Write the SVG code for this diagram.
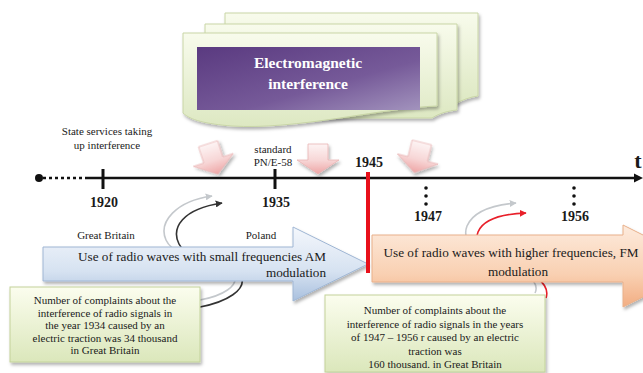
<svg xmlns="http://www.w3.org/2000/svg" width="643" height="373" viewBox="0 0 643 373">
<defs>
<style>
.t{font-family:"Liberation Serif","Times New Roman",serif;fill:#1a1a1a}
.b{font-weight:bold}
.card{fill:url(#cardG);stroke:#c9d6a6;stroke-width:1}
.note{fill:url(#noteG);stroke:#c3d29a;stroke-width:1}
.darr{fill:url(#pinkG);stroke:#e8b4b4;stroke-width:0.8}
</style>
<linearGradient id="cardG" x1="0" y1="0" x2="0" y2="1"><stop offset="0" stop-color="#f8fbec"/><stop offset="1" stop-color="#dde8c2"/></linearGradient>
<linearGradient id="noteG" x1="0" y1="0" x2="0" y2="1"><stop offset="0" stop-color="#fbfdee"/><stop offset="1" stop-color="#dbe7bb"/></linearGradient>
<linearGradient id="purG" x1="0" y1="0" x2="1" y2="1"><stop offset="0" stop-color="#5a3a80"/><stop offset="0.6" stop-color="#765a99"/><stop offset="1" stop-color="#a293bd"/></linearGradient>
<linearGradient id="blueG" x1="0" y1="0" x2="0" y2="1"><stop offset="0" stop-color="#f4f7fc"/><stop offset="0.6" stop-color="#d6e2f1"/><stop offset="1" stop-color="#a9c0de"/></linearGradient>
<linearGradient id="orG" x1="0" y1="0" x2="0" y2="1"><stop offset="0" stop-color="#fdebdd"/><stop offset="0.6" stop-color="#f9d0b2"/><stop offset="1" stop-color="#f2ad82"/></linearGradient>
<linearGradient id="pinkG" x1="0" y1="0" x2="0" y2="1"><stop offset="0" stop-color="#fdf4f4"/><stop offset="0.55" stop-color="#f7d6d6"/><stop offset="1" stop-color="#eea5a5"/></linearGradient>
<filter id="sh" x="-10%" y="-10%" width="130%" height="140%"><feDropShadow dx="1.5" dy="2.5" stdDeviation="1.5" flood-color="#000" flood-opacity="0.3"/></filter>
<marker id="mk" viewBox="0 0 10 10" refX="9" refY="5" markerWidth="7" markerHeight="7" orient="auto" markerUnits="userSpaceOnUse"><path d="M0,0 L10,5 L0,10 Z" fill="#333"/></marker>
<marker id="mg" viewBox="0 0 10 10" refX="9" refY="5" markerWidth="7" markerHeight="7" orient="auto" markerUnits="userSpaceOnUse"><path d="M0,0 L10,5 L0,10 Z" fill="#c4c8cc"/></marker>
<marker id="mr" viewBox="0 0 10 10" refX="9" refY="5" markerWidth="7" markerHeight="7" orient="auto" markerUnits="userSpaceOnUse"><path d="M0,0 L10,5 L0,10 Z" fill="#e8202a"/></marker>
</defs>
<rect width="643" height="373" fill="#fff"/>

<g id="title">
<path class="card" filter="url(#sh)" d="M225,13 H478 V96 C470,97 462,100 455,104 H225 Z"/>
<path class="card" filter="url(#sh)" d="M205,24 H457 V110 C448,111 440,113 432,118 H205 Z"/>
<path class="card" filter="url(#sh)" d="M183,33 H437 V106 C410,107 380,112 340,118 C300,124 262,128 232,126 C206,124 190,120 183,113 Z"/>
<rect x="197" y="47" width="223" height="63" fill="url(#purG)"/>
<text class="t b" x="308" y="68" font-size="15.5" text-anchor="middle" style="fill:#fff">Electromagnetic</text>
<text class="t b" x="308" y="89" font-size="15.5" text-anchor="middle" style="fill:#fff">interference</text>
</g>

<g id="down-arrows">
<path class="darr" filter="url(#sh)" transform="translate(213,159) rotate(-18)" d="M-10,-16 H10 V1 H21 L0,16 L-21,1 H-10 Z"/>
<path class="darr" filter="url(#sh)" transform="translate(318,159)" d="M-10,-15 H10 V1 H21 L0,15 L-21,1 H-10 Z"/>
<path class="darr" filter="url(#sh)" transform="translate(418,158) rotate(14)" d="M-10,-16 H10 V1 H21 L0,15 L-21,1 H-10 Z"/>
</g>

<g id="timeline">
<circle cx="39" cy="178" r="4" fill="#111"/>
<line x1="43" y1="178" x2="85" y2="178" stroke="#111" stroke-width="2.5" stroke-dasharray="3,3"/>
<line x1="85" y1="178" x2="636" y2="178" stroke="#111" stroke-width="2.5"/>
<path d="M634,173.5 L643,178 L634,182.5 Z" fill="#111"/>
<text class="t b" x="638" y="168" font-size="22" text-anchor="middle">t</text>
</g>

<g id="y1920">
<line x1="103" y1="169" x2="103" y2="189" stroke="#111" stroke-width="3"/>
<text class="t b" x="104" y="207" font-size="14" text-anchor="middle">1920</text>
<text class="t" x="107" y="135" font-size="11" text-anchor="middle">State services taking</text>
<text class="t" x="107" y="149" font-size="11" text-anchor="middle">up interference</text>
</g>
<g id="y1935">
<line x1="275" y1="169" x2="275" y2="189" stroke="#111" stroke-width="3"/>
<text class="t b" x="276" y="207" font-size="14" text-anchor="middle">1935</text>
<text class="t" x="273" y="153" font-size="11" text-anchor="middle">standard</text>
<text class="t" x="273" y="166" font-size="11" text-anchor="middle">PN/E-58</text>
</g>
<g id="y1947">
<circle cx="426" cy="188" r="1.8" fill="#111"/><circle cx="426" cy="196" r="1.8" fill="#111"/><circle cx="426" cy="204" r="1.8" fill="#111"/>
<text class="t b" x="428" y="221" font-size="14" text-anchor="middle">1947</text>
</g>
<g id="y1956">
<circle cx="574" cy="188" r="1.8" fill="#111"/><circle cx="574" cy="196" r="1.8" fill="#111"/><circle cx="574" cy="204" r="1.8" fill="#111"/>
<text class="t b" x="575" y="221" font-size="14" text-anchor="middle">1956</text>
</g>

<g id="connectors" fill="none">
<path d="M200,300 C222,296 240,286 234,274 C226,260 176,262 166,240 C158,222 176,201 212,196" stroke="#c4c8cc" stroke-width="1.6" marker-end="url(#mg)"/>
<path d="M200,307 C226,302 248,290 241,275 C233,262 188,262 179,244 C171,228 182,209 222,203" stroke="#333" stroke-width="1.6" marker-end="url(#mk)"/>
<path d="M535,293 C541,281 522,268 492,259 C472,252 462,239 467,226 C473,212 492,205 516,203" stroke="#c4c8cc" stroke-width="1.6" marker-end="url(#mg)"/>
<path d="M546,298 C551,284 532,270 502,262 C486,256 473,246 478,232 C483,220 500,214 526,213" stroke="#e8202a" stroke-width="1.6" marker-end="url(#mr)"/>
</g>

<g id="am-arrow">
<path filter="url(#sh)" d="M43,247 H293 V227 L368,264 L293,301 V281 H43 Z" fill="url(#blueG)" stroke="#9fb6d4" stroke-width="1"/>
<text class="t" x="106" y="239" font-size="11" text-anchor="middle">Great Britain</text>
<text class="t" x="261" y="239" font-size="11" text-anchor="middle">Poland</text>
<text class="t" x="326" y="261" font-size="13.2" text-anchor="end">Use of radio waves with small frequencies AM</text>
<text class="t" x="326" y="277" font-size="13.2" text-anchor="end">modulation</text>
</g>

<g id="fm-arrow">
<path filter="url(#sh)" d="M372,235 H623 V225 L705,266 L623,307 V282 H372 Z" fill="url(#orG)" stroke="#e9b08a" stroke-width="1"/>
<text class="t" x="511" y="257" font-size="13.2" text-anchor="middle">Use of radio waves with higher frequencies, FM</text>
<text class="t" x="518" y="276" font-size="13.2" text-anchor="middle">modulation</text>
</g>

<g id="y1945">
<line x1="368" y1="172" x2="368" y2="273" stroke="#e8101a" stroke-width="4"/>
<text class="t b" x="369" y="167" font-size="14" text-anchor="middle">1945</text>
</g>

<g id="note-1934">
<rect class="note" filter="url(#sh)" x="10" y="287" width="190" height="75"/>
<text class="t" x="105" y="304" font-size="11" text-anchor="middle">Number of complaints about the</text>
<text class="t" x="105" y="316.5" font-size="11" text-anchor="middle">interference of radio signals in</text>
<text class="t" x="105" y="329" font-size="11" text-anchor="middle">the year 1934 caused by an</text>
<text class="t" x="105" y="341.5" font-size="11" text-anchor="middle">electric traction was 34  thousand</text>
<text class="t" x="105" y="354" font-size="11" text-anchor="middle">in Great Britain</text>
</g>

<g id="note-1947">
<rect class="note" filter="url(#sh)" x="325" y="295" width="220" height="77"/>
<text class="t" x="435" y="314" font-size="11" text-anchor="middle">Number of complaints about the</text>
<text class="t" x="435" y="327.5" font-size="11" text-anchor="middle">interference of radio signals in the years</text>
<text class="t" x="435" y="341" font-size="11" text-anchor="middle">of 1947 – 1956 r caused by an electric</text>
<text class="t" x="435" y="354.5" font-size="11" text-anchor="middle">traction was</text>
<text class="t" x="435" y="368" font-size="11" text-anchor="middle">160 thousand. in Great Britain</text>
</g>
</svg>
